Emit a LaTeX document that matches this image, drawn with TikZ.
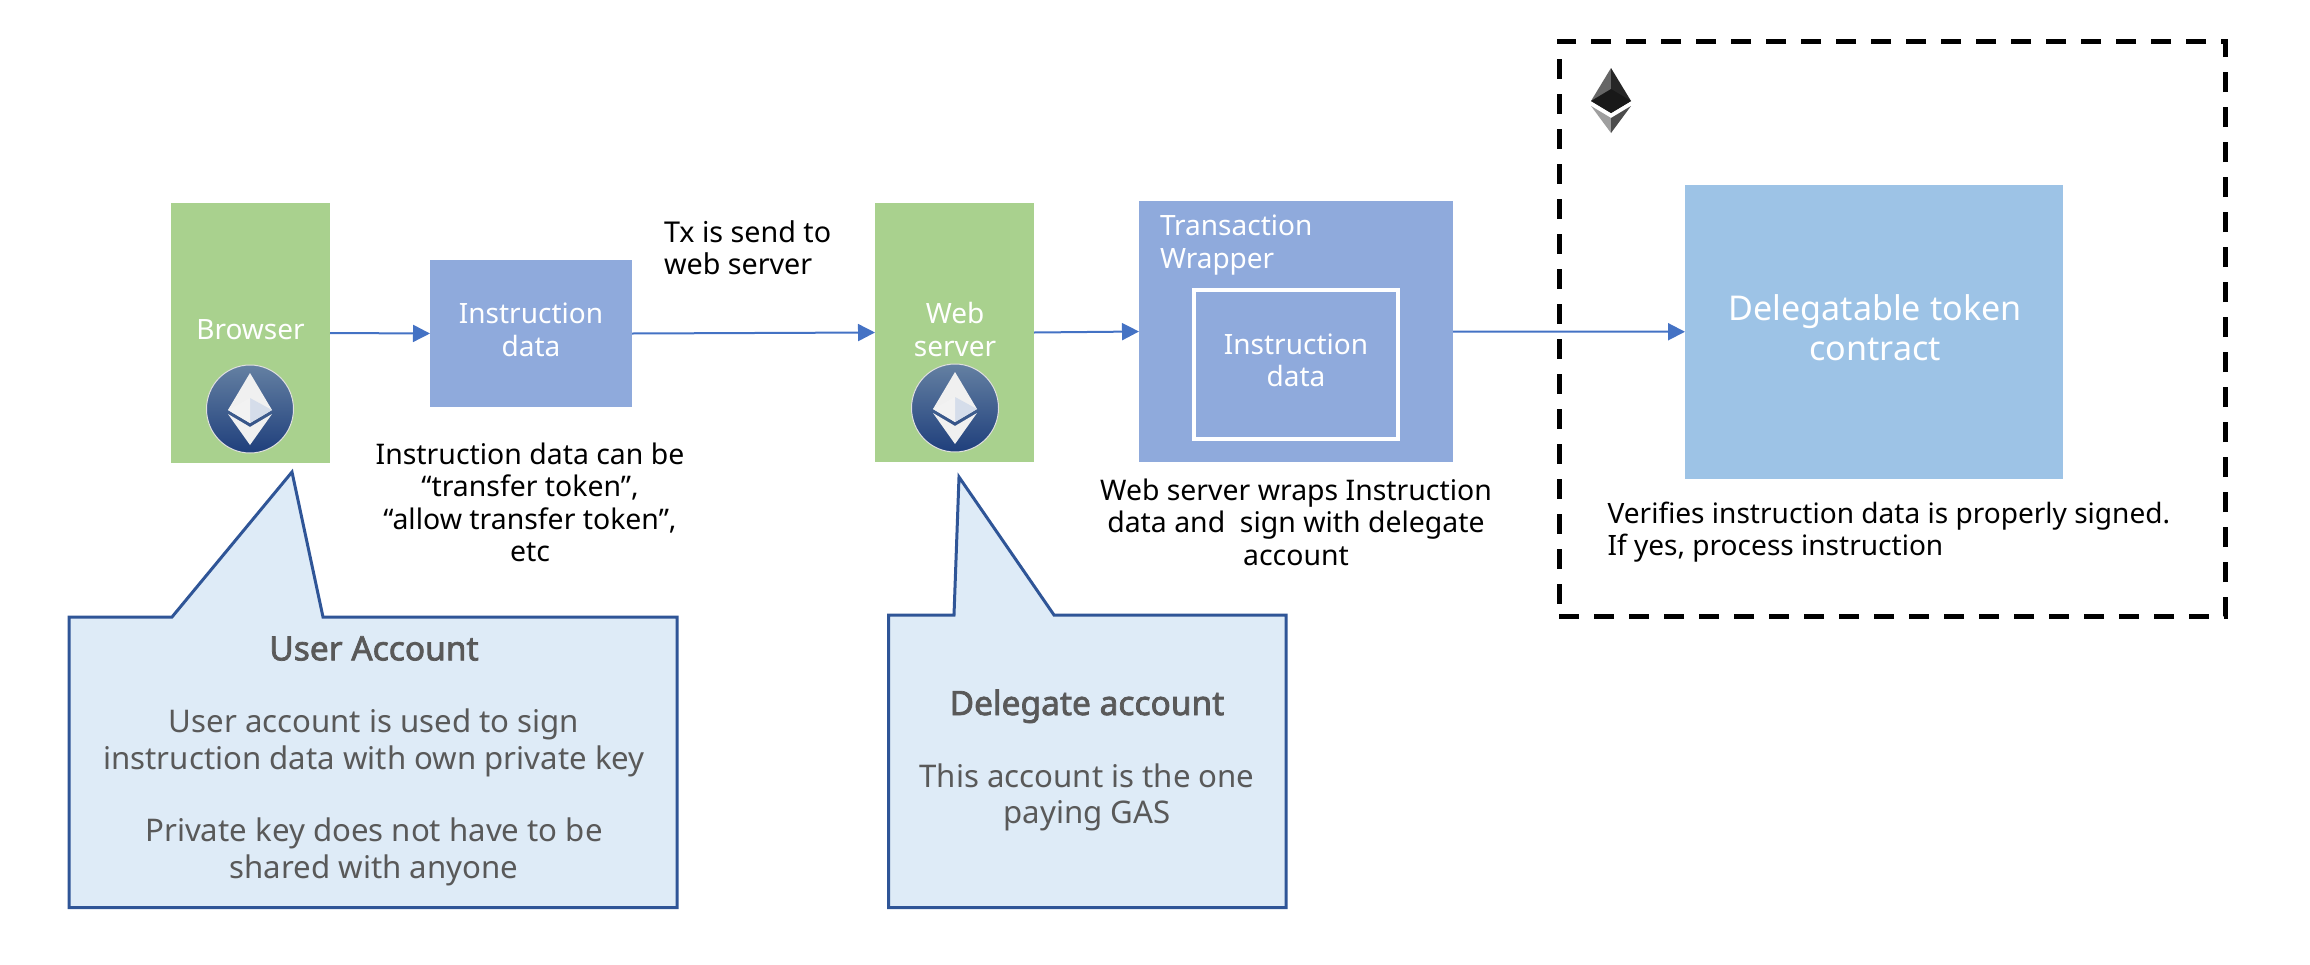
\documentclass[tikz,border=0pt]{standalone}
\usepackage{fontspec}
\setmainfont{Noto Sans}
\newfontfamily\heavyfam[FakeBold=2.2]{Noto Sans}
\usetikzlibrary{arrows.meta,shapes.geometric}
\definecolor{cgreen}{HTML}{A9D18E}
\definecolor{cblue}{HTML}{8FAADC}
\definecolor{clight}{HTML}{9DC3E6}
\definecolor{cpale}{HTML}{DEEBF7}
\definecolor{cedge}{HTML}{2F5597}
\definecolor{carrow}{HTML}{4472C4}
\definecolor{cgrey}{HTML}{595959}
\definecolor{coinup}{HTML}{6480A2}
\definecolor{coindown}{HTML}{1F3F7C}
\newcommand{\boxat}[7]{\node[#1,minimum width=#5 pt-#3 pt,minimum height=#6 pt-#4 pt,anchor=north west] (#2) at (#3,#4) {#7};}
\newcommand{\heavytxt}[1]{{\heavyfam\fontsize{33.5}{36.3}\selectfont #1}}
\tikzset{
  x=1pt,y=-1pt,
  every node/.style={inner sep=0pt,outer sep=0pt},
  greenbox/.style={fill=cgreen},
  bluebox/.style={fill=cblue},
  conn/.style={draw=carrow,line width=2pt,-{Triangle[length=17pt,width=17pt]}},
  txt/.style={font=\fontsize{28.4}{32.5}\selectfont,align=center,text=black},
  wtxt/.style={font=\fontsize{28}{32.5}\selectfont,align=center,text=white},
  calltxt/.style={font=\fontsize{31.2}{36.3}\selectfont,align=center,text=cgrey},
  callout/.style={draw=cedge,line width=3pt,fill=cpale,miter limit=20},
  ethcoin/.style={shape=ellipse,draw=white!75!gray,line width=1pt,top color=coinup,bottom color=coindown},
}
\newcommand{\ethcoinat}[3]{%
  \begin{scope}[shift={(#1,#2)}]
    \node[ethcoin,minimum width=#3 pt,minimum height=88pt] at (0,0) {};
    \fill[white!88!gray] (0,-36) -- (-22,1) -- (0,14) -- (22,1) -- cycle;
    \fill[white!80!cedge] (0,-11) -- (22,1) -- (0,14) -- cycle;
    \fill[white!90!gray] (0,-11) -- (-22,1) -- (0,14) -- cycle;
    \fill[white!88!gray] (-22,5) -- (0,18) -- (22,5) -- (0,36) -- cycle;
  \end{scope}}
\begin{document}
\begin{tikzpicture}
\useasboundingbox (0,0) rectangle (2310,964);
% boxes
\boxat{greenbox}{browser}{171}{203}{330}{463}{}
\boxat{bluebox}{instr}{430}{260}{632}{407}{}
\boxat{greenbox}{web}{875}{203}{1034}{462}{}
\boxat{bluebox}{wrapper}{1139}{201}{1453}{462}{}
\node[draw=white,line width=3.5pt,minimum width=204pt,minimum height=149pt,anchor=north west] (inner) at (1194,290) {};
\boxat{fill=clight}{contract}{1685}{185}{2063}{478.5}{}
% dashed frame
\node[draw=black,line width=5pt,dash pattern=on 20pt off 15pt,minimum width=666pt,minimum height=575pt,anchor=north west] (frame) at (1559,41) {};
% box texts
\node[wtxt] (tbrowser) at (250.5,329.5) {Browser};
\node[wtxt] (tinstr) at (531,330) {Instruction\\data};
\node[wtxt] (tweb) at (955,329.5) {Web\\server};
\node[wtxt,align=left,anchor=west] (twrap) at (1160,245) {Transaction\\Wrapper};
\node[wtxt] (tinner) at (1296,360.5) {Instruction\\data};
\node[font=\fontsize{34.1}{40}\selectfont,align=center,text=white] (tcontract) at (1875,327.5) {Delegatable token\\contract};
% connectors
\draw[conn] (browser.east) -- (instr.west);
\draw[conn] (instr.east) -- (web.west);
\draw[conn] (web.east) -- (wrapper.west);
\draw[conn] (wrapper.east) -- (contract.west);
% coins
\ethcoinat{250}{409}{87}
\ethcoinat{955}{408}{87}
% black eth logo
\fill[gray!80!black] (1611,68) -- (1591,101) -- (1611,113) -- cycle;
\fill[black!85] (1611,68) -- (1631,101) -- (1611,113) -- cycle;
\fill[black!90] (1611,89) -- (1591,101) -- (1611,113) -- (1631,101) -- cycle;
\fill[gray!75] (1591,106) -- (1611,118) -- (1611,133) -- cycle;
\fill[gray!60!black] (1631,106) -- (1611,118) -- (1611,133) -- cycle;
% free texts
\node[txt,font=\fontsize{28.7}{32.5}\selectfont,align=left,anchor=west] (ttx) at (664,247.5) {Tx is send to\\web server};
\node[txt] (tcan) at (530,502.5) {Instruction data can be\\“transfer token”,\\“allow transfer token”,\\etc};
\node[txt] (twraps) at (1296,522) {Web server wraps Instruction\\data and\ \ sign with delegate\\account};
\node[txt,font=\fontsize{28.05}{32.5}\selectfont,align=left,anchor=west] (tver) at (1607.6,532) {Verifies instruction data is properly signed.\\If yes, process instruction};
% callouts
\coordinate (tipa) at (292,472);
\coordinate (tipb) at (959,477);
\draw[callout] (69,617) -- (172,617) -- (tipa) -- (323,617) -- (677,617) -- (677,907.5) -- (69,907.5) -- cycle;
\draw[callout] (888.5,615) -- (954,615) -- (tipb) -- (1054,615) -- (1286,615) -- (1286,907.5) -- (888.5,907.5) -- cycle;
\node[calltxt] (tuser) at (374,761) {\heavytxt{User Account}\\[36.3pt]User account is used to sign\\instruction data with own private key\\[36.3pt]Private key does not have to be\\shared with anyone};
\node[calltxt] (tdel) at (1087,760.5) {\heavytxt{Delegate account}\\[36.3pt]This account is the one\\paying GAS};
\end{tikzpicture}
\end{document}
